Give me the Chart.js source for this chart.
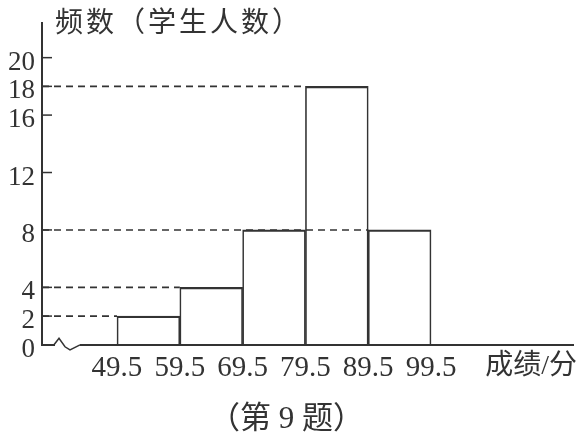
<!DOCTYPE html>
<html>
<head>
<meta charset="utf-8">
<script src="https://cdn.jsdelivr.net/npm/chart.js@4.4.1/dist/chart.umd.min.js"></script>
<style>
  body { margin: 0; background: #fff; }
  #wrap { width: 580px; height: 441px; }
</style>
</head>
<body>
<div id="wrap"><canvas id="histograma" width="580" height="441"></canvas></div>
<script>
// datos del histograma
const binEdges = [49.5, 59.5, 69.5, 79.5, 89.5, 99.5];
const frequencies = [2, 4, 8, 18, 8];
const yTickValues = [0, 2, 4, 8, 12, 16, 18, 20];
const yTitle = '频数（学生人数）';
const xTitle = '成绩/分';
const caption = '（第 9 题）';

const ink = '#333';
const fontFamily = "'Liberation Serif', 'Noto Sans CJK SC', serif";
const xMin = 37.56, xMax = 122.1;

const barPoints = frequencies.map((f, i) => ({ x: (binEdges[i] + binEdges[i + 1]) / 2, y: f }));

// linea discontinua desde el eje hasta el borde izquierdo de la ultima barra con ese valor
const dashedSets = [...new Set(frequencies)].map(v => {
    const last = frequencies.lastIndexOf(v);
    return {
        type: 'line',
        data: [{ x: xMin, y: v }, { x: binEdges[last], y: v }],
        borderColor: ink,
        borderWidth: 1.6,
        borderDash: [7, 5],
        pointRadius: 0,
        fill: false
    };
});

const decor = {
    id: 'decor',
    afterDraw(chart) {
        const { ctx, chartArea, scales: { y } } = chart;
        const l = chartArea.left, b = chartArea.bottom;
        ctx.save();
        ctx.strokeStyle = ink;
        ctx.lineWidth = 1.5;
        yTickValues.forEach(v => {
            if (v === 0) return;
            const py = y.getPixelForValue(v);
            ctx.beginPath();
            ctx.moveTo(l, py);
            ctx.lineTo(l + 10, py);
            ctx.stroke();
        });
        // marca de corte en el eje x
        ctx.fillStyle = '#fff';
        ctx.fillRect(l + 13, b - 3, 25, 6);
        ctx.beginPath();
        ctx.moveTo(l + 12, b);
        ctx.lineTo(l + 17, b - 6.5);
        ctx.lineTo(l + 23, b + 2);
        ctx.lineTo(l + 28, b + 5);
        ctx.lineTo(l + 38, b);
        ctx.stroke();
        ctx.fillStyle = ink;
        ctx.font = '28px ' + fontFamily;
        ctx.textBaseline = 'middle';
        ctx.textAlign = 'left';
        ctx.letterSpacing = '3px';
        ctx.fillText(yTitle, l + 13, 25);
        ctx.letterSpacing = '0px';
        ctx.font = '28px ' + fontFamily;
        ctx.textAlign = 'right';
        ctx.fillText(xTitle, 577, b + 22);
        ctx.restore();
    }
};

const ctx = document.getElementById('histograma');
new Chart(ctx, {
    type: 'bar',
    data: {
        datasets: [{
            data: barPoints,
            backgroundColor: 'rgba(0,0,0,0)',
            borderColor: ink,
            borderWidth: { top: 1.5, left: 1, right: 1, bottom: 0 },
            borderSkipped: false,
            barPercentage: 1,
            categoryPercentage: 1
        }, ...dashedSets]
    },
    options: {
        responsive: false,
        animation: false,
        layout: { padding: { top: 17, right: 7, left: 0, bottom: 0 } },
        scales: {
            x: {
                type: 'linear',
                offset: false,
                min: xMin,
                max: xMax,
                afterBuildTicks: s => { s.ticks = binEdges.map(v => ({ value: v })); },
                afterFit: s => { s.height = 56; },
                grid: { display: false, drawTicks: false },
                border: { display: true, color: ink, width: 2 },
                ticks: {
                    color: ink,
                    padding: 6,
                    maxRotation: 0,
                    autoSkip: false,
                    font: { family: fontFamily, size: 29 },
                    callback: v => String(v)
                }
            },
            y: {
                min: 0,
                max: 22.4,
                afterBuildTicks: s => { s.ticks = yTickValues.map(v => ({ value: v })); },
                afterFit: s => { s.width = 42; },
                grid: { display: false, drawTicks: false },
                border: { display: true, color: ink, width: 2 },
                ticks: {
                    color: ink,
                    padding: 7,
                    labelOffset: 5,
                    autoSkip: false,
                    font: { family: fontFamily, size: 27 }
                }
            }
        },
        plugins: {
            legend: { display: false },
            tooltip: { enabled: false },
            subtitle: {
                display: true,
                position: 'bottom',
                text: caption,
                color: ink,
                font: { family: fontFamily, size: 31, weight: 'normal' },
                padding: { top: 0, bottom: 3 }
            }
        }
    },
    plugins: [decor]
});
</script>
</body>
</html>
